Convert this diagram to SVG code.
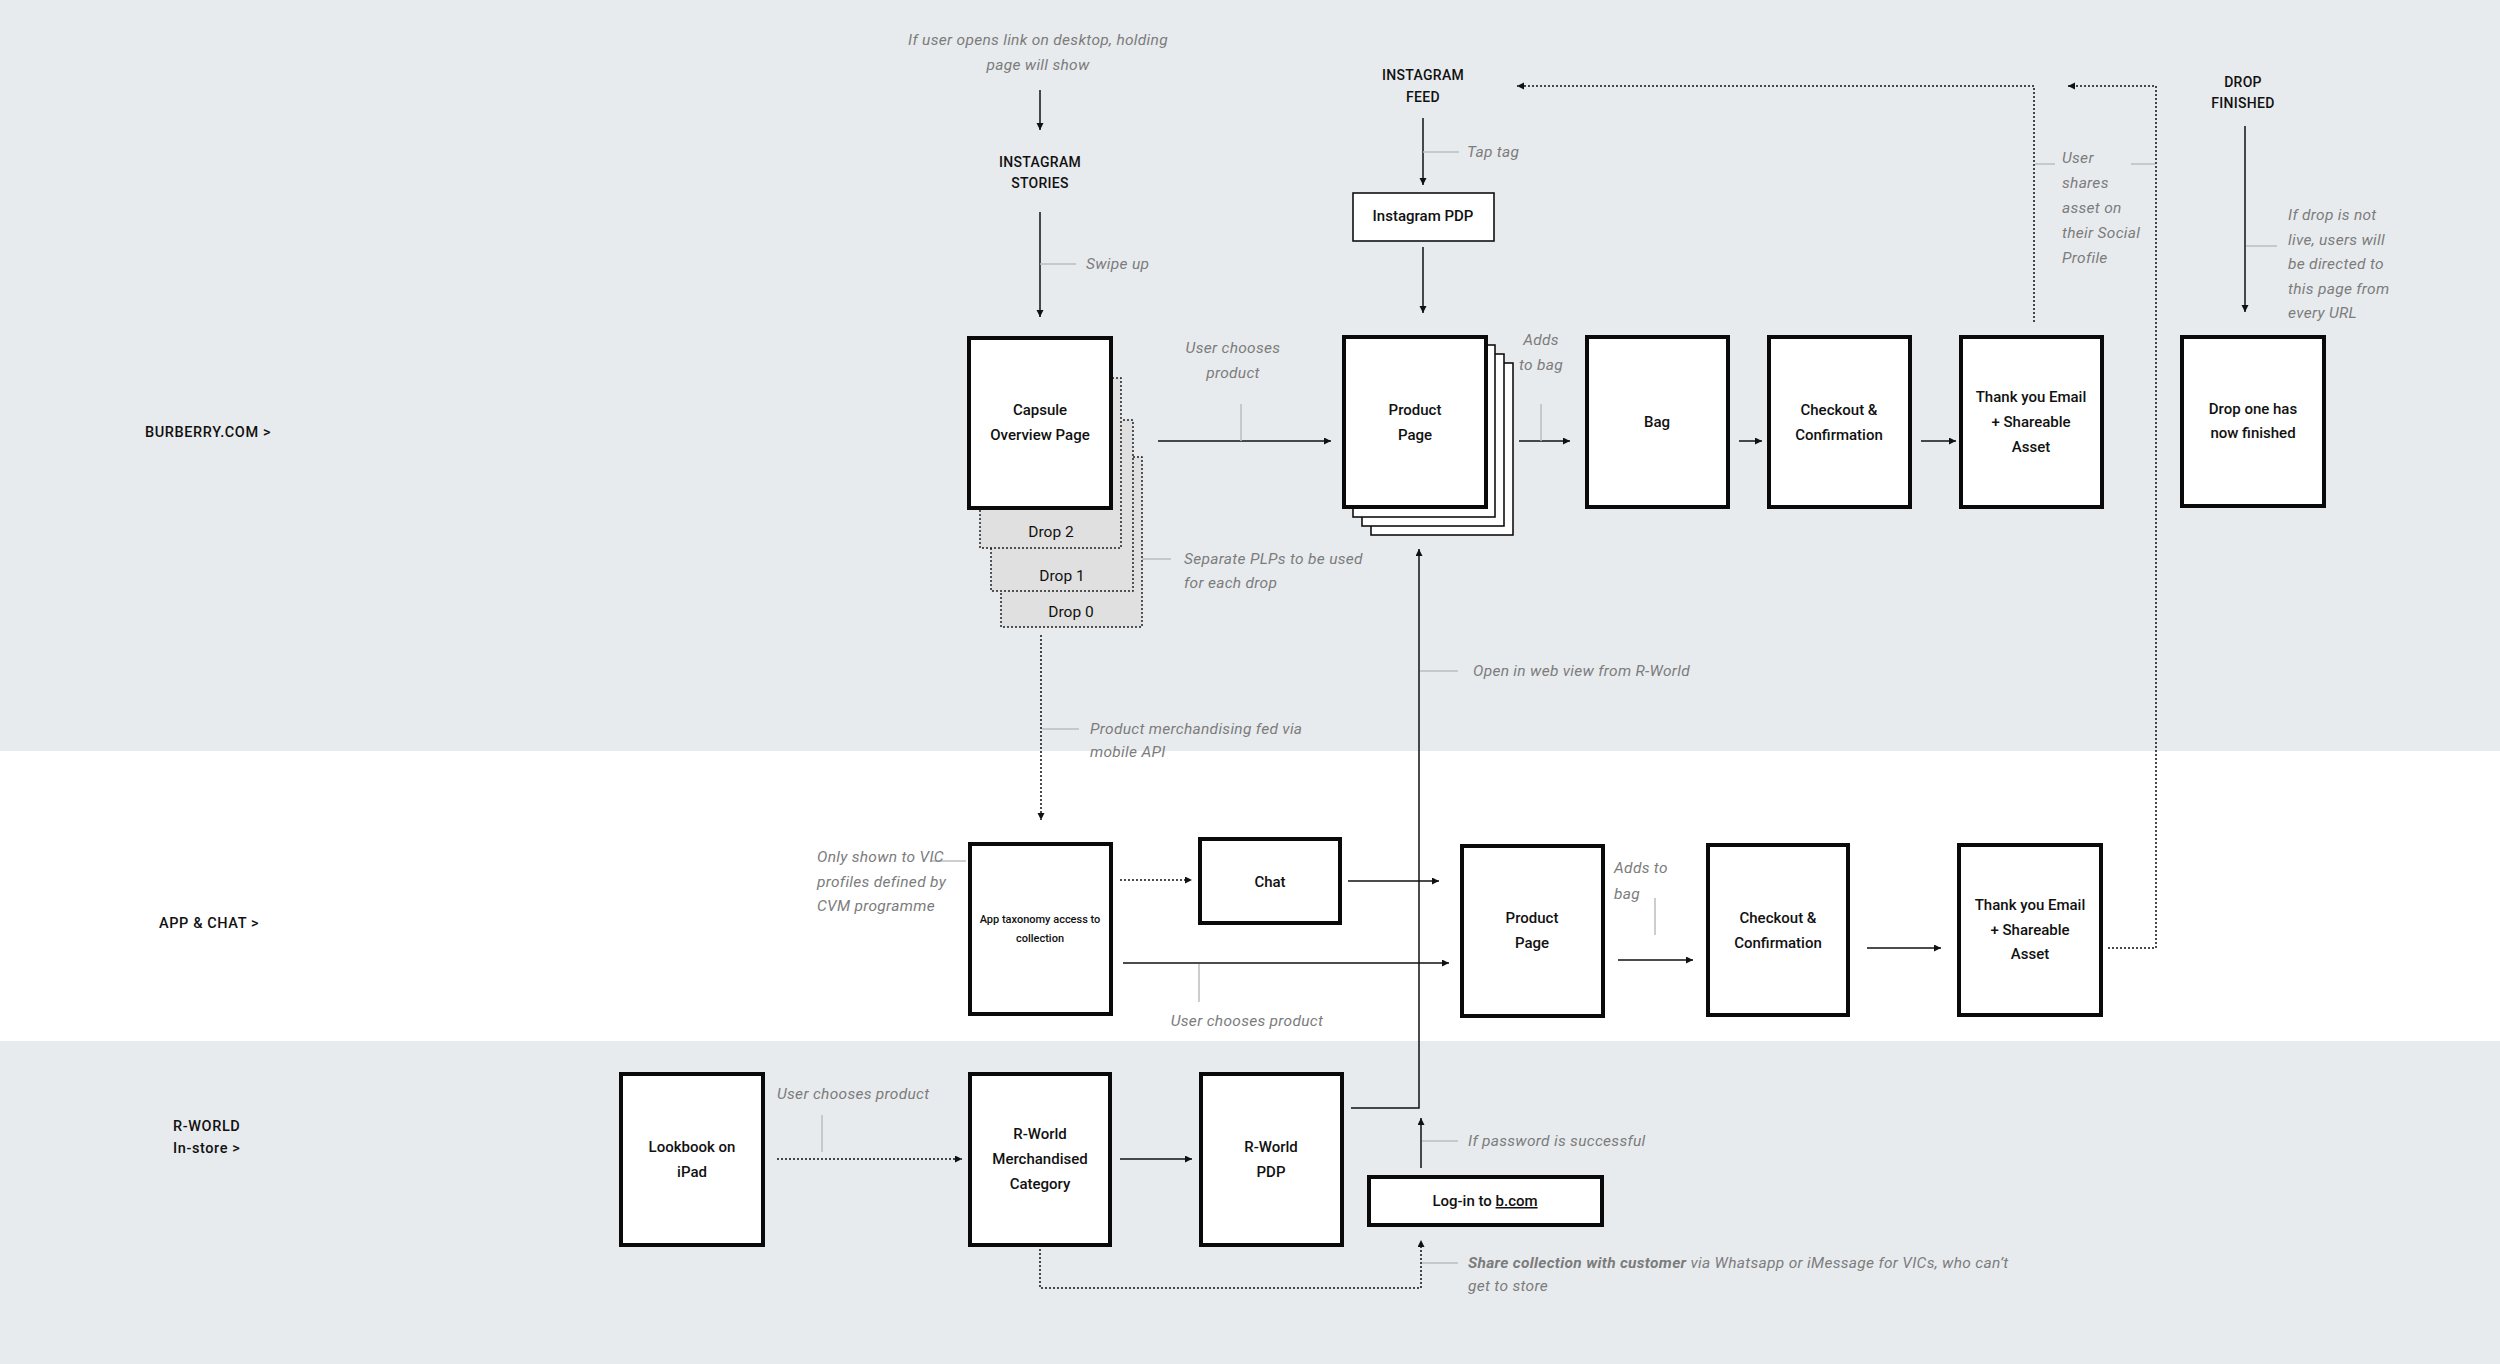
<svg xmlns="http://www.w3.org/2000/svg" width="2500" height="1364" viewBox="0 0 2500 1364">
<defs>
<style>
.bg{fill:#e8ebee}
.box{fill:#fff;stroke:#0a0a0a;stroke-width:4}
.thin{fill:#fff;stroke:#111;stroke-width:1.6}
.drop{fill:#e0e0e0;stroke:#222;stroke-width:1.5;stroke-dasharray:2 2}
.t{font-family:Roboto,"Liberation Sans",sans-serif;font-weight:500;font-size:15px;fill:#111;text-anchor:middle}
.ts{font-size:11px}
.dt{font-weight:400;font-size:15.5px}
.h{font-family:Roboto,"Liberation Sans",sans-serif;font-weight:500;font-size:14px;fill:#111;text-anchor:middle;letter-spacing:0.3px}
.lane{font-family:Roboto,"Liberation Sans",sans-serif;font-weight:500;font-size:14.5px;fill:#111;letter-spacing:0.6px}
.a{font-family:Roboto,"Liberation Sans",sans-serif;font-weight:400;font-style:italic;font-size:15.5px;fill:#7c7c7c;letter-spacing:0.3px}
.am{text-anchor:middle}
.c{fill:none;stroke:#111;stroke-width:1.5}
.d{fill:none;stroke:#111;stroke-width:1.5;stroke-dasharray:2 2}
.tick{fill:none;stroke:#bdbdbd;stroke-width:1.5}
</style>
<marker id="ah" markerUnits="userSpaceOnUse" markerWidth="8" markerHeight="8" refX="7" refY="3.5" orient="auto">
<path d="M0,0 L7,3.5 L0,7 z" fill="#111"/>
</marker>
</defs>

<rect class="bg" x="0" y="0" width="2500" height="751"/>
<rect x="0" y="751" width="2500" height="290" fill="#ffffff"/>
<rect class="bg" x="0" y="1041" width="2500" height="323"/>

<g id="lanes">
<text class="lane" x="145" y="437">BURBERRY.COM &gt;</text>
<text class="lane" x="159" y="928">APP &amp; CHAT &gt;</text>
<text class="lane" x="173" y="1131">R-WORLD</text>
<text class="lane" x="173" y="1153">In-store &gt;</text>
</g>

<g id="connectors">
<line class="c" x1="1040" y1="90" x2="1040" y2="130" marker-end="url(#ah)"/>
<line class="c" x1="1040" y1="212" x2="1040" y2="317" marker-end="url(#ah)"/>
<line class="c" x1="1423" y1="118" x2="1423" y2="185" marker-end="url(#ah)"/>
<line class="c" x1="1423" y1="247" x2="1423" y2="313" marker-end="url(#ah)"/>
<line class="c" x1="1158" y1="441" x2="1331" y2="441" marker-end="url(#ah)"/>
<line class="c" x1="1519" y1="441" x2="1570" y2="441" marker-end="url(#ah)"/>
<line class="c" x1="1739" y1="441" x2="1762" y2="441" marker-end="url(#ah)"/>
<line class="c" x1="1921" y1="441" x2="1956" y2="441" marker-end="url(#ah)"/>
<polyline class="d" points="2034,322 2034,86 1517,86" marker-end="url(#ah)"/>
<polyline class="d" points="2108,948 2156,948 2156,86 2068,86" marker-end="url(#ah)"/>
<line class="c" x1="2245" y1="126" x2="2245" y2="312" marker-end="url(#ah)"/>
<line class="d" x1="1041" y1="635" x2="1041" y2="820" marker-end="url(#ah)"/>
<line class="d" x1="1120" y1="880" x2="1192" y2="880" marker-end="url(#ah)"/>
<line class="c" x1="1348" y1="881" x2="1439" y2="881" marker-end="url(#ah)"/>
<line class="c" x1="1123" y1="963" x2="1449" y2="963" marker-end="url(#ah)"/>
<line class="c" x1="1618" y1="960" x2="1693" y2="960" marker-end="url(#ah)"/>
<line class="c" x1="1867" y1="948" x2="1941" y2="948" marker-end="url(#ah)"/>
<line class="d" x1="777" y1="1159" x2="962" y2="1159" marker-end="url(#ah)"/>
<line class="c" x1="1120" y1="1159" x2="1192" y2="1159" marker-end="url(#ah)"/>
<polyline class="c" points="1351,1108 1419,1108 1419,549" marker-end="url(#ah)"/>
<line class="c" x1="1421" y1="1168" x2="1421" y2="1118" marker-end="url(#ah)"/>
<polyline class="d" points="1040,1249 1040,1288 1421,1288 1421,1240" marker-end="url(#ah)"/>

<line class="tick" x1="1040" y1="264" x2="1076" y2="264"/>
<line class="tick" x1="1423" y1="152" x2="1459" y2="152"/>
<line class="tick" x1="1241" y1="404" x2="1241" y2="441"/>
<line class="tick" x1="1541" y1="404" x2="1541" y2="441"/>
<line class="tick" x1="2035" y1="164" x2="2055" y2="164"/>
<line class="tick" x1="2131" y1="164" x2="2155" y2="164"/>
<line class="tick" x1="2246" y1="246" x2="2277" y2="246"/>
<line class="tick" x1="1134" y1="559" x2="1171" y2="559"/>
<line class="tick" x1="1042" y1="729" x2="1079" y2="729"/>
<line class="tick" x1="1420" y1="671" x2="1458" y2="671"/>
<line class="tick" x1="931" y1="861" x2="966" y2="861"/>
<line class="tick" x1="1199" y1="964" x2="1199" y2="1002"/>
<line class="tick" x1="1655" y1="898" x2="1655" y2="935"/>
<line class="tick" x1="822" y1="1115" x2="822" y2="1152"/>
<line class="tick" x1="1422" y1="1141" x2="1458" y2="1141"/>
<line class="tick" x1="1422" y1="1263" x2="1458" y2="1263"/>
</g>

<g id="annotations">
<text class="a am" x="1038" y="45">If user opens link on desktop, holding</text>
<text class="a am" x="1038" y="70">page will show</text>
<text class="a" x="1086" y="269">Swipe up</text>
<text class="a" x="1467" y="157">Tap tag</text>
<text class="a am" x="1233" y="353">User chooses</text>
<text class="a am" x="1233" y="378">product</text>
<text class="a am" x="1541" y="345">Adds</text>
<text class="a am" x="1541" y="370">to bag</text>
<text class="a" x="2062" y="163">User</text>
<text class="a" x="2062" y="188">shares</text>
<text class="a" x="2062" y="213">asset on</text>
<text class="a" x="2062" y="238">their Social</text>
<text class="a" x="2062" y="263">Profile</text>
<text class="a" x="2288" y="220">If drop is not</text>
<text class="a" x="2288" y="245">live, users will</text>
<text class="a" x="2288" y="269">be directed to</text>
<text class="a" x="2288" y="294">this page from</text>
<text class="a" x="2288" y="318">every URL</text>
<text class="a" x="1184" y="564">Separate PLPs to be used</text>
<text class="a" x="1184" y="588">for each drop</text>
<text class="a" x="1473" y="676">Open in web view from R-World</text>
<text class="a" x="1090" y="734">Product merchandising fed via</text>
<text class="a" x="1090" y="757">mobile API</text>
<text class="a" x="817" y="862">Only shown to VIC</text>
<text class="a" x="817" y="887">profiles defined by</text>
<text class="a" x="817" y="911">CVM programme</text>
<text class="a am" x="1247" y="1026">User chooses product</text>
<text class="a" x="1614" y="873">Adds to</text>
<text class="a" x="1614" y="899">bag</text>
<text class="a" x="777" y="1099">User chooses product</text>
<text class="a" x="1468" y="1146">If password is successful</text>
<text class="a" x="1468" y="1268"><tspan font-weight="700">Share collection with customer</tspan> via Whatsapp or iMessage for VICs, who can’t</text>
<text class="a" x="1468" y="1291">get to store</text>
</g>

<g id="instagram-stories"><text class="h" x="1040" y="167">INSTAGRAM</text><text class="h" x="1040" y="188">STORIES</text></g>
<g id="instagram-feed"><text class="h" x="1423" y="80">INSTAGRAM</text><text class="h" x="1423" y="102">FEED</text></g>
<g id="drop-finished"><text class="h" x="2243" y="87">DROP</text><text class="h" x="2243" y="108">FINISHED</text></g>

<g id="instagram-pdp"><rect class="thin" x="1353" y="193" width="141" height="48"/><text class="t" x="1423" y="221">Instagram PDP</text></g>

<g id="drop-0"><rect class="drop" x="1001" y="457" width="141" height="170"/><text class="t dt" x="1071" y="617">Drop 0</text></g>
<g id="drop-1"><rect class="drop" x="991" y="420" width="142" height="171"/><text class="t dt" x="1062" y="581">Drop 1</text></g>
<g id="drop-2"><rect class="drop" x="980" y="378" width="141" height="170"/><text class="t dt" x="1051" y="537">Drop 2</text></g>
<g id="capsule"><rect class="box" x="969" y="338" width="142" height="170"/><text class="t" x="1040" y="415">Capsule</text><text class="t" x="1040" y="440">Overview Page</text></g>

<g id="product-page">
<rect class="thin" x="1371" y="363" width="142" height="172"/>
<rect class="thin" x="1362" y="354" width="142" height="172"/>
<rect class="thin" x="1353" y="345" width="142" height="172"/>
<rect class="box" x="1344" y="337" width="142" height="170"/>
<text class="t" x="1415" y="415">Product</text><text class="t" x="1415" y="440">Page</text>
</g>
<g id="bag"><rect class="box" x="1587" y="337" width="141" height="170"/><text class="t" x="1657" y="427">Bag</text></g>
<g id="checkout"><rect class="box" x="1769" y="337" width="141" height="170"/><text class="t" x="1839" y="415">Checkout &amp;</text><text class="t" x="1839" y="440">Confirmation</text></g>
<g id="thankyou"><rect class="box" x="1961" y="337" width="141" height="170"/><text class="t" x="2031" y="402">Thank you Email</text><text class="t" x="2031" y="427">+ Shareable</text><text class="t" x="2031" y="452">Asset</text></g>
<g id="drop-one-finished"><rect class="box" x="2182" y="337" width="142" height="169"/><text class="t" x="2253" y="414">Drop one has</text><text class="t" x="2253" y="438">now finished</text></g>

<g id="app-taxonomy"><rect class="box" x="970" y="844" width="141" height="170"/><text class="t ts" x="1040" y="923">App taxonomy access to</text><text class="t ts" x="1040" y="942">collection</text></g>
<g id="chat"><rect class="box" x="1200" y="839" width="140" height="84"/><text class="t" x="1270" y="887">Chat</text></g>
<g id="app-product-page"><rect class="box" x="1462" y="846" width="141" height="170"/><text class="t" x="1532" y="923">Product</text><text class="t" x="1532" y="948">Page</text></g>
<g id="app-checkout"><rect class="box" x="1708" y="845" width="140" height="170"/><text class="t" x="1778" y="923">Checkout &amp;</text><text class="t" x="1778" y="948">Confirmation</text></g>
<g id="app-thankyou"><rect class="box" x="1959" y="845" width="142" height="170"/><text class="t" x="2030" y="910">Thank you Email</text><text class="t" x="2030" y="935">+ Shareable</text><text class="t" x="2030" y="959">Asset</text></g>

<g id="lookbook"><rect class="box" x="621" y="1074" width="142" height="171"/><text class="t" x="692" y="1152">Lookbook on</text><text class="t" x="692" y="1177">iPad</text></g>
<g id="rworld-category"><rect class="box" x="970" y="1074" width="140" height="171"/><text class="t" x="1040" y="1139">R-World</text><text class="t" x="1040" y="1164">Merchandised</text><text class="t" x="1040" y="1189">Category</text></g>
<g id="rworld-pdp"><rect class="box" x="1201" y="1074" width="141" height="171"/><text class="t" x="1271" y="1152">R-World</text><text class="t" x="1271" y="1177">PDP</text></g>
<g id="login"><rect class="box" x="1369" y="1177" width="233" height="48"/><text class="t" x="1485" y="1206">Log-in to <tspan text-decoration="underline">b.com</tspan></text></g>
</svg>
